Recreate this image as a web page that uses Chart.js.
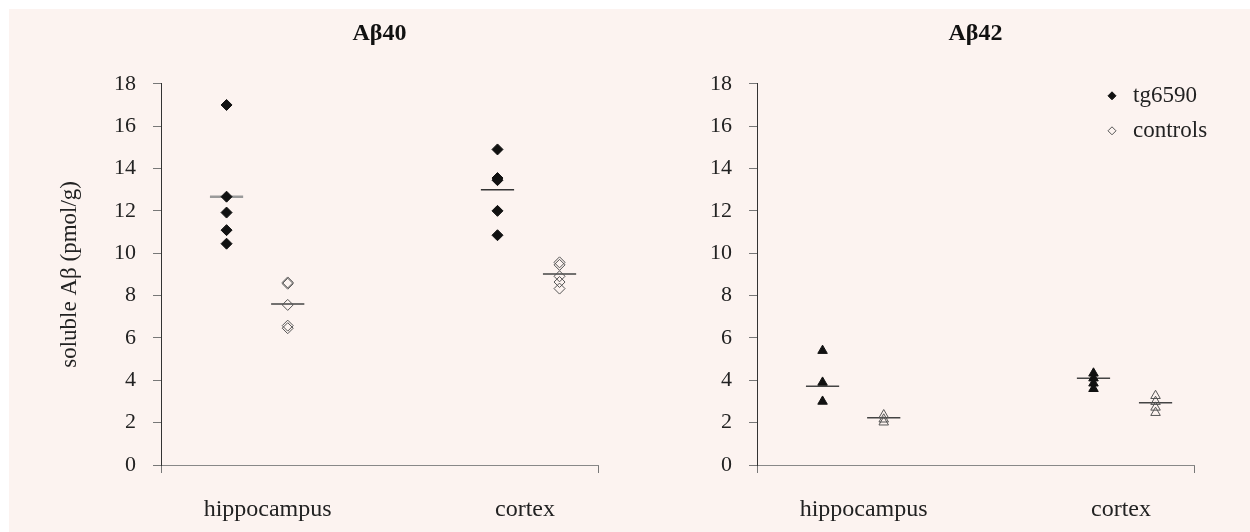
<!DOCTYPE html>
<html>
<head>
<meta charset="utf-8">
<script src="https://cdn.jsdelivr.net/npm/chart.js@4.4.0/dist/chart.umd.min.js"></script>
<style>
  html, body { margin: 0; padding: 0; background: #fff; }
  #wrap { position: absolute; left: 9px; top: 9px; width: 1241px; height: 523px; background: #fcf3f0; }
  canvas { position: absolute; top: 0; }
  #ab40 { left: 0; }
  #ab42 { left: 616px; }
</style>
</head>
<body>
<div id="wrap">
  <canvas id="ab40" width="616" height="523"></canvas>
  <canvas id="ab42" width="625" height="523"></canvas>
</div>
<script>
// categories and values
const groups = ['hippocampus', 'cortex'];
const legendLabels = ['tg6590', 'controls'];

const ab40Tg = [[17.0, 12.67, 11.92, 11.09, 10.45], [14.9, 13.55, 13.45, 12.0, 10.85]];
const ab40Ctrl = [[8.62, 8.56, 7.56, 6.58, 6.46], [9.57, 9.45, 8.91, 8.64, 8.33]];
const ab40TgMean = [12.67, 13.0];
const ab40CtrlMean = [7.6, 9.02];

const ab42Tg = [[5.4, 3.9, 3.0], [4.33, 4.1, 3.86, 3.6]];
const ab42Ctrl = [[2.36, 2.16, 2.02], [3.27, 2.99, 2.72, 2.47]];
const ab42TgMean = [3.72, 4.1];
const ab42CtrlMean = [2.23, 2.94];

// where each group sits on the 0..10 x scale
const tgSlot = [1.5, 7.7];
const ctrlSlot = [2.9, 9.12];
const labelSlot = [2.44, 8.33];
const meanHalf = 0.38;

const serif = '"Liberation Serif", "Times New Roman", serif';

const cornerLegend = {
    id: 'cornerLegend',
    afterDraw(chart, args, opts) {
        if (!opts.show) return;
        const { ctx, chartArea } = chart;
        ctx.save();
        ctx.font = '23px ' + serif;
        ctx.textBaseline = 'middle';
        legendLabels.forEach((lab, i) => {
            const x = chartArea.right - 82;
            const y = chartArea.top + 12 + i * 35;
            ctx.fillStyle = i === 0 ? '#111' : 'rgba(0,0,0,0)';
            ctx.strokeStyle = i === 0 ? '#111' : '#555';
            ctx.lineWidth = 1;
            Chart.helpers.drawPoint(ctx, { pointStyle: 'rectRot', radius: 4, borderWidth: 1 }, x, y);
            ctx.fillStyle = '#222';
            ctx.fillText(lab, chartArea.right - 61, y);
        });
        ctx.restore();
    }
};

function makePanel(id, cfg) {
    const datasets = [];
    groups.forEach((g, i) => {
        datasets.push({
            label: legendLabels[0] + ' ' + g,
            data: cfg.tg[i].map(v => ({ x: tgSlot[i], y: v })),
            pointStyle: cfg.marker, pointRadius: 5.5, pointHoverRadius: 5.5,
            pointBackgroundColor: '#111', pointBorderColor: '#111', pointBorderWidth: 1
        });
        datasets.push({
            label: legendLabels[1] + ' ' + g,
            data: cfg.ctrl[i].map(v => ({ x: ctrlSlot[i], y: v })),
            pointStyle: cfg.marker, pointRadius: 5.5, pointHoverRadius: 5.5,
            pointBackgroundColor: 'rgba(0,0,0,0)', pointBorderColor: '#555', pointBorderWidth: 1
        });
        datasets.push({
            label: 'mean tg ' + g,
            data: [{ x: tgSlot[i] - meanHalf, y: cfg.tgMean[i] }, { x: tgSlot[i] + meanHalf, y: cfg.tgMean[i] }],
            showLine: true, pointRadius: 0, borderColor: cfg.meanColors[i], borderWidth: cfg.meanWidths[i]
        });
        datasets.push({
            label: 'mean ctrl ' + g,
            data: [{ x: ctrlSlot[i] - meanHalf, y: cfg.ctrlMean[i] }, { x: ctrlSlot[i] + meanHalf, y: cfg.ctrlMean[i] }],
            showLine: true, pointRadius: 0, borderColor: '#444', borderWidth: 1.5
        });
    });

    new Chart(document.getElementById(id), {
        type: 'scatter',
        data: { datasets },
        plugins: [cornerLegend],
        options: {
            responsive: false,
            animation: false,
            layout: { padding: { left: cfg.padLeft, right: cfg.padRight, top: 0, bottom: 0 } },
            plugins: {
                legend: { display: false },
                tooltip: { enabled: false },
                cornerLegend: { show: cfg.legend },
                title: {
                    display: true,
                    text: cfg.title,
                    fullSize: false,
                    color: '#111',
                    font: { family: serif, size: 24, weight: 'bold' },
                    padding: { top: 10, bottom: 36 }
                }
            },
            scales: {
                x: {
                    type: 'linear', min: 0, max: 10,
                    afterBuildTicks: axis => { axis.ticks = [0, ...labelSlot, 10].map(v => ({ value: v })); },
                    afterFit: axis => { axis.height = 67; },
                    ticks: {
                        autoSkip: false, maxRotation: 0, padding: 22,
                        color: '#222', font: { family: serif, size: 24 },
                        callback: v => { const i = labelSlot.indexOf(v); return i >= 0 ? groups[i] : ''; }
                    },
                    grid: {
                        drawOnChartArea: false, tickLength: 8,
                        color: c => (c.tick && (c.tick.value === 0 || c.tick.value === 10)) ? '#777' : 'rgba(0,0,0,0)'
                    },
                    border: { color: '#888', width: 1 }
                },
                y: {
                    min: 0, max: 18,
                    afterFit: axis => { axis.width = cfg.yWidth; },
                    ticks: { stepSize: 2, padding: 17, color: '#222', font: { family: serif, size: 22 } },
                    grid: { drawOnChartArea: false, tickLength: 8, color: '#777' },
                    border: { color: '#333', width: 1 },
                    title: {
                        display: !!cfg.yTitle, text: cfg.yTitle || '',
                        color: '#222', font: { family: serif, size: 23 },
                        padding: { top: 11, bottom: 0 }
                    }
                }
            }
        }
    });
}

makePanel('ab40', {
    title: 'Aβ40', tg: ab40Tg, ctrl: ab40Ctrl, tgMean: ab40TgMean, ctrlMean: ab40CtrlMean,
    marker: 'rectRot', meanColors: ['#9a9a9a', '#333'], meanWidths: [2.5, 1.5],
    yTitle: 'soluble Aβ (pmol/g)', yWidth: 116, padLeft: 36, padRight: 27, legend: false
});

makePanel('ab42', {
    title: 'Aβ42', tg: ab42Tg, ctrl: ab42Ctrl, tgMean: ab42TgMean, ctrlMean: ab42CtrlMean,
    marker: 'triangle', meanColors: ['#444', '#444'], meanWidths: [1.5, 1.5],
    yTitle: null, yWidth: 61, padLeft: 71, padRight: 56, legend: true
});
</script>
</body>
</html>
